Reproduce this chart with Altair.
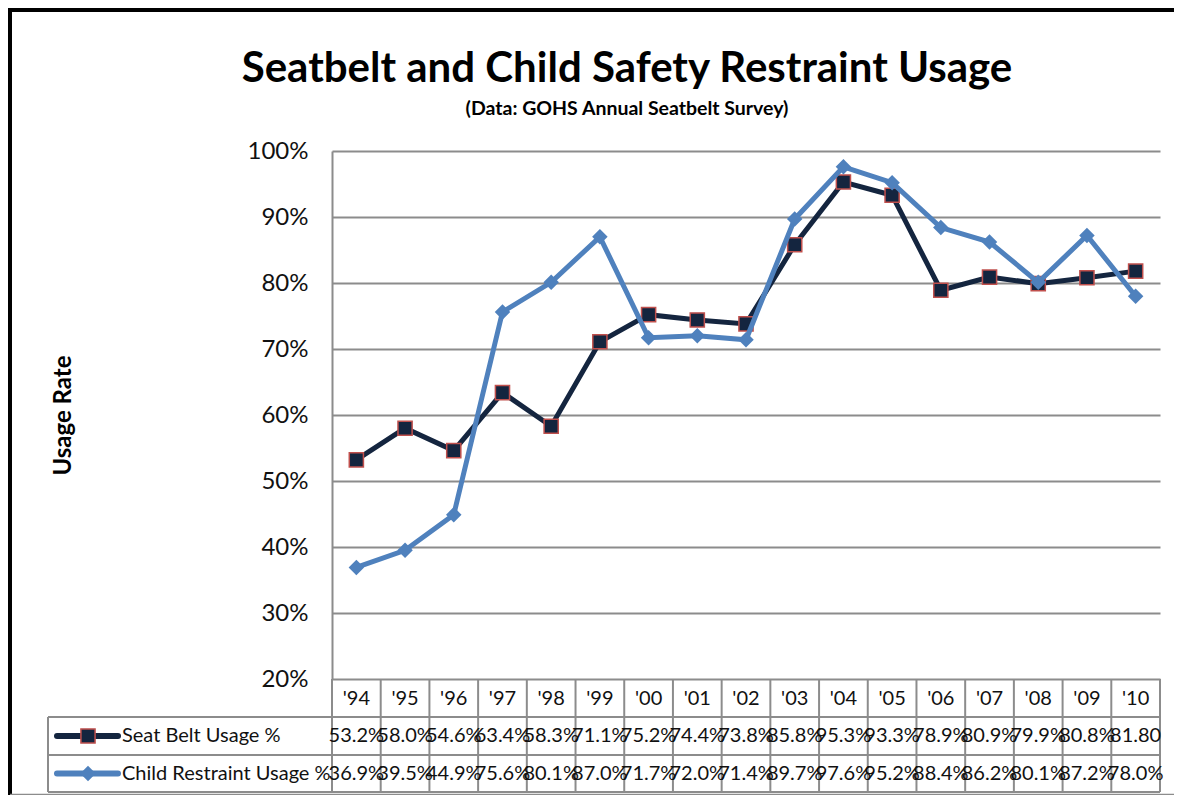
import altair as alt
import pandas as pd

years = ["'94", "'95", "'96", "'97", "'98", "'99", "'00", "'01", "'02",
         "'03", "'04", "'05", "'06", "'07", "'08", "'09", "'10"]
seat_belt = [53.2, 58.0, 54.6, 63.4, 58.3, 71.1, 75.2, 74.4, 73.8,
             85.8, 95.3, 93.3, 78.9, 80.9, 79.9, 80.8, 81.8]
child_restraint = [36.9, 39.5, 44.9, 75.6, 80.1, 87.0, 71.7, 72.0, 71.4,
                   89.7, 97.6, 95.2, 88.4, 86.2, 80.1, 87.2, 78.0]
seat_labels = ["53.2%", "58.0%", "54.6%", "63.4%", "58.3%", "71.1%", "75.2%", "74.4%", "73.8%",
               "85.8%", "95.3%", "93.3%", "78.9%", "80.9%", "79.9%", "80.8%", "81.80"]
child_labels = ["36.9%", "39.5%", "44.9%", "75.6%", "80.1%", "87.0%", "71.7%", "72.0%", "71.4%",
                "89.7%", "97.6%", "95.2%", "88.4%", "86.2%", "80.1%", "87.2%", "78.0%"]
series_names = ["Seat Belt Usage %", "Child Restraint Usage %"]
y_ticks = [0.2, 0.3, 0.4, 0.5, 0.6, 0.7, 0.8, 0.9, 1.0]

TITLE = "Seatbelt and Child Safety Restraint Usage"
SUBTITLE = "(Data:  GOHS Annual Seatbelt Survey)"

FONT = "Lato"
NAVY = "#14253f"
RED = "#c0504d"
BLUE = "#4f81bd"
GRID = "#8c8c8c"

W, H = 828, 528
R1, R2, R3 = 38, 76, 113   # table row boundaries below the plot (px)

df_seat = pd.DataFrame({"year": years, "value": [v / 100 for v in seat_belt], "label": seat_labels})
df_child = pd.DataFrame({"year": years, "value": [v / 100 for v in child_restraint], "label": child_labels})
df_years = pd.DataFrame({"year": years})
one = alt.Data(values=[{}])

xscale = alt.Scale(type="band", domain=years, paddingInner=0, paddingOuter=0)
yscale = alt.Scale(domain=[0.2, 1.0], nice=False, zero=False)

x_axis = alt.Axis(title=None, ticks=False, domain=False, labelAngle=0,
                  labelFontSize=20, labelFont=FONT, labelColor="#111",
                  labelPadding=R1 / 2, labelBaseline="middle")
x_enc = alt.X("year:N", scale=xscale, sort=None, axis=x_axis)
y_enc = alt.Y("value:Q", scale=yscale,
              axis=alt.Axis(title="Usage Rate", values=y_ticks, format=".0%",
                            ticks=False, domain=True, domainColor=GRID, domainWidth=2,
                            grid=True, gridColor=GRID, gridWidth=2,
                            labelFontSize=24, labelFont=FONT, labelColor="#111",
                            labelPadding=24,
                            titleFont=FONT, titleFontSize=24, titleFontWeight="bold",
                            titleColor="#000", titleX=-269, titleY=H / 2,
                            titleAngle=270, titleBaseline="middle", titleAlign="center"))

# table rules
vrules = alt.Chart(df_years).mark_rule(color=GRID, strokeWidth=2).encode(
    x=alt.X("year:N", scale=xscale, bandPosition=0, axis=x_axis),
    y=alt.value(H), y2=alt.value(H + R3))
right_rule = alt.Chart(one).mark_rule(color=GRID, strokeWidth=2).encode(
    x=alt.value(W), y=alt.value(H), y2=alt.value(H + R3))
left_rule = alt.Chart(one).mark_rule(color=GRID, strokeWidth=2).encode(
    x=alt.value(-284), y=alt.value(H + R1), y2=alt.value(H + R3))
hrules = [alt.Chart(one).mark_rule(color=GRID, strokeWidth=2).encode(
    x=alt.value(-284), x2=alt.value(W), y=alt.value(H + yy)) for yy in (R1, R2, R3)]

# frame
frame_top = alt.Chart(one).mark_rule(color="#000", strokeWidth=4).encode(
    x=alt.value(-322), x2=alt.value(W + 60), y=alt.value(-141))
frame_left = alt.Chart(one).mark_rule(color="#000", strokeWidth=4).encode(
    x=alt.value(-322), y=alt.value(-143), y2=alt.value(H + 116))
frame_bottom = alt.Chart(one).mark_rule(color=GRID, strokeWidth=1.5).encode(
    x=alt.value(-322), x2=alt.value(W + 60), y=alt.value(H + 115.5))

seat_line = alt.Chart(df_seat).mark_line(color=NAVY, strokeWidth=5).encode(x=x_enc, y=y_enc)
seat_pts = alt.Chart(df_seat).mark_point(shape="square", filled=True, fill=NAVY, stroke=RED,
                                         strokeWidth=1.5, size=200, opacity=1).encode(
    x=alt.X("year:N", scale=xscale, axis=x_axis), y=alt.Y("value:Q", scale=yscale))
child_line = alt.Chart(df_child).mark_line(color=BLUE, strokeWidth=5).encode(
    x=alt.X("year:N", scale=xscale, axis=x_axis), y=alt.Y("value:Q", scale=yscale))
child_pts = alt.Chart(df_child).mark_point(shape="diamond", filled=True, fill=BLUE,
                                           size=240, opacity=1).encode(
    x=alt.X("year:N", scale=xscale, axis=x_axis), y=alt.Y("value:Q", scale=yscale))

row_c = [(R1 + R2) / 2, (R2 + R3) / 2]

seat_text = alt.Chart(df_seat).mark_text(font=FONT, fontSize=20, color="#111", baseline="middle").encode(
    x=alt.X("year:N", scale=xscale, axis=x_axis), y=alt.value(H + row_c[0]), text="label:N")
child_text = alt.Chart(df_child).mark_text(font=FONT, fontSize=20, color="#111", baseline="middle").encode(
    x=alt.X("year:N", scale=xscale, axis=x_axis), y=alt.value(H + row_c[1]), text="label:N")

# legend entries in table
leg = []
for i, (name, col) in enumerate(zip(series_names, [NAVY, BLUE])):
    yy = H + row_c[i]
    leg.append(alt.Chart(one).mark_rule(color=col, strokeWidth=6, strokeCap="round").encode(
        x=alt.value(-275), x2=alt.value(-214), y=alt.value(yy)))
    if i == 0:
        leg.append(alt.Chart(one).mark_point(shape="square", filled=True, fill=NAVY, stroke=RED,
                                             strokeWidth=1.5, size=200, opacity=1).encode(
            x=alt.value(-244), y=alt.value(yy)))
    else:
        leg.append(alt.Chart(one).mark_point(shape="diamond", filled=True, fill=BLUE,
                                             size=240, opacity=1).encode(
            x=alt.value(-244), y=alt.value(yy)))
    leg.append(alt.Chart(alt.Data(values=[{"t": name}])).mark_text(
        font=FONT, fontSize=20, color="#111", align="left", baseline="middle").encode(
        x=alt.value(-210), y=alt.value(yy), text="t:N"))

title = alt.Chart(alt.Data(values=[{"t": TITLE}])).mark_text(
    font=FONT, fontSize=42, fontWeight="bold", color="#000", align="center",
    baseline="alphabetic").encode(x=alt.value(295), y=alt.value(-69), text="t:N")
subtitle = alt.Chart(alt.Data(values=[{"t": SUBTITLE}])).mark_text(
    font=FONT, fontSize=19.5, fontWeight="bold", color="#000", align="center",
    baseline="alphabetic").encode(x=alt.value(295), y=alt.value(-36), text="t:N")

chart = alt.layer(
    frame_top, frame_left, frame_bottom,
    seat_line, vrules, right_rule, left_rule, *hrules,
    seat_pts, child_line, child_pts,
    seat_text, child_text, *leg, title, subtitle,
).properties(
    width=W, height=H,
    autosize=alt.AutoSizeParams(type="none"),
    padding={"left": 324, "top": 143, "right": 14, "bottom": 116},
    background="white",
).configure_view(strokeWidth=0)

chart.save("out.html", embed_options={"renderer": "svg", "actions": False})
